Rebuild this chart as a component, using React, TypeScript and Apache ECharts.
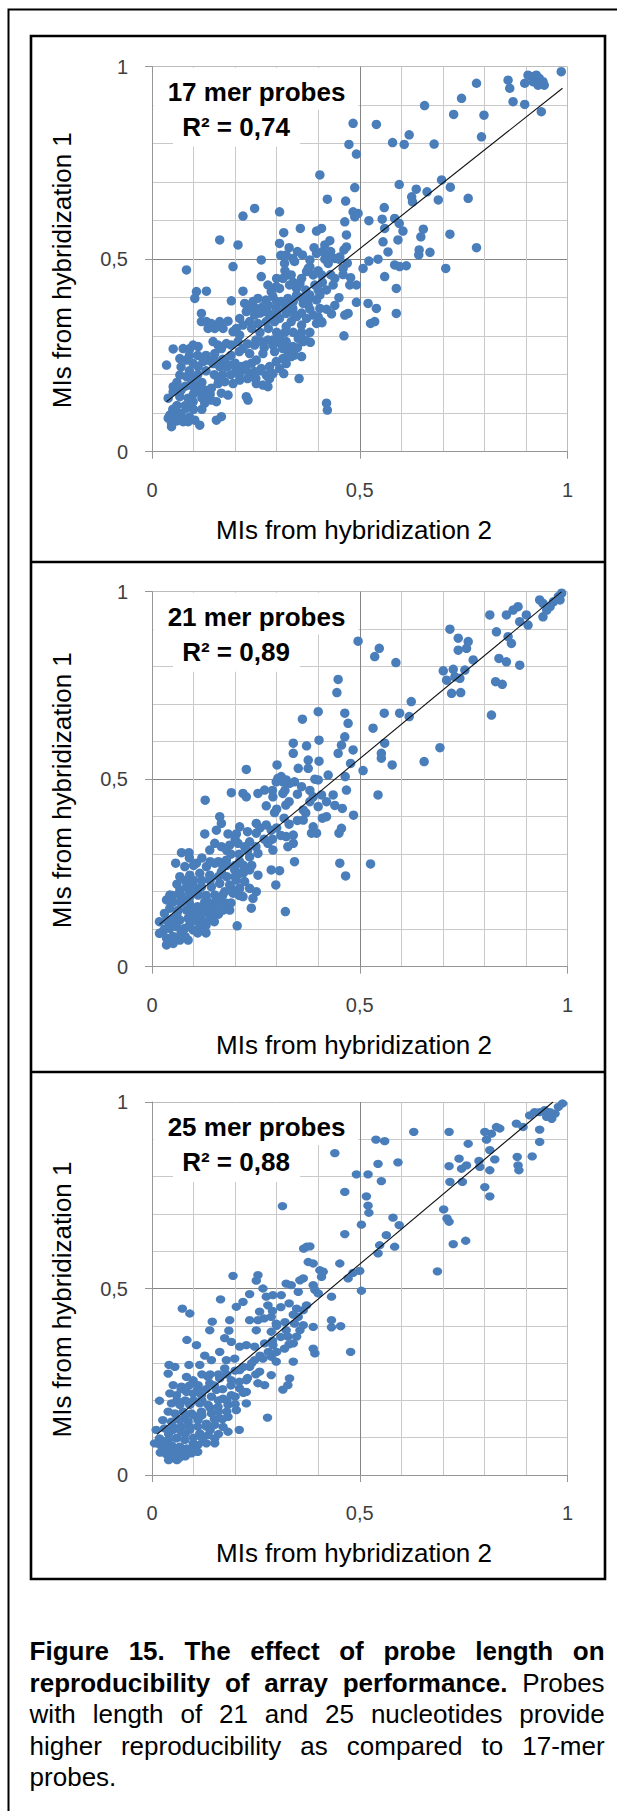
import React, { useEffect, useRef } from 'react';
import * as echarts from 'echarts';

// ---------- data ----------
const tickLabels = ['0', '0,5', '1'];
const panelTitles = ['17 mer probes', '21 mer probes', '25 mer probes'];
const r2Labels = ['R² = 0,74', 'R² = 0,89', 'R² = 0,88'];
const xAxisTitle = 'MIs from hybridization 2';
const yAxisTitle = 'MIs from hybridization 1';

const points17: number[][] = [
  [0.985,0.987],[0.944,0.952],[0.932,0.970],[0.925,0.978],[0.913,0.974],[0.905,0.978],[0.937,0.957],[0.929,0.952],[0.941,0.961],[0.921,0.965],
  [0.917,0.961],[0.897,0.957],[0.857,0.965],[0.861,0.944],[0.869,0.909],[0.897,0.902],[0.937,0.883],[0.781,0.957],[0.745,0.918],[0.799,0.874],
  [0.793,0.818],[0.656,0.899],[0.726,0.876],[0.619,0.823],[0.679,0.799],[0.579,0.803],[0.607,0.798],[0.540,0.850],[0.484,0.853],[0.474,0.798],
  [0.492,0.773],[0.404,0.719],[0.488,0.686],[0.595,0.694],[0.636,0.682],[0.662,0.675],[0.697,0.706],[0.718,0.687],[0.761,0.658],[0.689,0.654],
  [0.625,0.662],[0.627,0.649],[0.422,0.656],[0.466,0.651],[0.559,0.634],[0.484,0.623],[0.496,0.619],[0.488,0.610],[0.464,0.597],[0.522,0.600],
  [0.554,0.604],[0.584,0.606],[0.595,0.593],[0.604,0.573],[0.653,0.578],[0.647,0.558],[0.717,0.565],[0.560,0.580],[0.556,0.545],[0.592,0.550],
  [0.468,0.563],[0.468,0.532],[0.462,0.524],[0.408,0.580],[0.396,0.573],[0.357,0.580],[0.317,0.569],[0.307,0.541],[0.416,0.537],[0.428,0.548],
  [0.247,0.632],[0.219,0.612],[0.307,0.623],[0.163,0.550],[0.207,0.537],[0.781,0.530],[0.642,0.511],[0.643,0.524],[0.669,0.518],[0.707,0.476],
  [0.568,0.519],[0.544,0.500],[0.522,0.495],[0.508,0.476],[0.584,0.485],[0.596,0.481],[0.612,0.483],[0.560,0.455],[0.588,0.424],[0.588,0.359],
  [0.540,0.372],[0.520,0.385],[0.536,0.338],[0.526,0.333],[0.492,0.388],[0.492,0.433],[0.478,0.452],[0.476,0.433],[0.460,0.476],[0.472,0.359],
  [0.464,0.355],[0.462,0.301],[0.436,0.433],[0.432,0.358],[0.409,0.335],[0.404,0.372],[0.420,0.126],[0.422,0.108],[0.354,0.190],[0.381,0.284],
  [0.323,0.511],[0.339,0.502],[0.362,0.511],[0.380,0.498],[0.396,0.515],[0.428,0.511],[0.440,0.502],[0.452,0.506],[0.424,0.489],[0.416,0.500],
  [0.376,0.476],[0.343,0.494],[0.319,0.489],[0.327,0.459],
  [0.083,0.472],[0.195,0.481],[0.263,0.498],[0.263,0.455],[0.279,0.433],[0.299,0.429],[0.315,0.450],[0.335,0.459],[0.356,0.437],[0.372,0.468],
  [0.388,0.459],[0.408,0.459],[0.392,0.433],[0.348,0.424],[0.331,0.433],[0.307,0.424],[0.287,0.416],
  [0.107,0.416],[0.131,0.417],[0.103,0.398],[0.191,0.392],[0.219,0.417],[0.243,0.390],[0.255,0.398],[0.274,0.394],[0.291,0.403],[0.311,0.390],
  [0.327,0.398],[0.348,0.407],[0.364,0.385],[0.380,0.407],[0.396,0.394],[0.404,0.407],[0.376,0.381],[0.339,0.372],[0.299,0.372],[0.267,0.377],
  [0.251,0.372],[0.235,0.372],[0.223,0.385],
  [0.119,0.359],[0.119,0.338],[0.131,0.338],[0.143,0.333],[0.163,0.338],[0.183,0.339],[0.171,0.320],[0.151,0.320],[0.135,0.320],[0.211,0.346],
  [0.227,0.364],[0.247,0.355],[0.267,0.364],[0.287,0.355],[0.307,0.346],[0.323,0.359],[0.335,0.338],[0.348,0.351],[0.360,0.329],[0.372,0.346],
  [0.388,0.355],[0.396,0.333],[0.408,0.338],[0.323,0.325],[0.295,0.338],[0.275,0.338],[0.255,0.333],[0.235,0.338],[0.219,0.329],[0.203,0.320],
  [0.195,0.312],[0.211,0.303],
  [0.099,0.277],[0.091,0.268],[0.111,0.273],[0.051,0.267],[0.075,0.268],[0.147,0.286],[0.159,0.277],[0.167,0.268],[0.179,0.281],[0.191,0.277],
  [0.207,0.286],[0.219,0.268],[0.235,0.255],[0.247,0.277],[0.263,0.286],[0.279,0.290],[0.291,0.277],[0.307,0.294],[0.323,0.286],[0.339,0.273],
  [0.352,0.294],[0.364,0.286],[0.315,0.268],[0.295,0.260],[0.267,0.255],[0.151,0.255],
  [0.035,0.225],[0.067,0.242],[0.083,0.238],[0.099,0.229],[0.111,0.221],[0.123,0.234],[0.135,0.238],[0.147,0.229],[0.163,0.221],[0.175,0.238],
  [0.187,0.225],[0.203,0.212],[0.215,0.221],[0.227,0.225],[0.251,0.238],[0.263,0.216],[0.283,0.221],[0.299,0.234],[0.315,0.242],[0.327,0.260],
  [0.343,0.251],[0.360,0.247],[0.323,0.229],[0.335,0.247],[0.307,0.216],[0.291,0.203],[0.275,0.199],[0.247,0.208],[0.227,0.212],
  [0.067,0.199],[0.083,0.195],[0.091,0.173],[0.103,0.165],[0.127,0.160],[0.143,0.165],[0.159,0.177],[0.175,0.182],[0.195,0.177],[0.211,0.186],
  [0.239,0.195],[0.251,0.177],[0.267,0.173],[0.279,0.169],[0.283,0.190],[0.317,0.203],[0.279,0.195],[0.051,0.169],
  [0.051,0.156],[0.067,0.143],[0.087,0.139],[0.099,0.130],[0.119,0.156],[0.131,0.147],[0.143,0.134],[0.167,0.152],[0.183,0.147],[0.227,0.143],
  [0.231,0.134],[0.127,0.126],[0.155,0.130],[0.039,0.139],
  [0.043,0.095],[0.055,0.100],[0.039,0.087],[0.047,0.074],[0.047,0.065],[0.059,0.091],[0.071,0.087],[0.091,0.121],[0.087,0.078],[0.103,0.082],
  [0.115,0.069],[0.155,0.082],[0.167,0.091],[0.075,0.078],[0.083,0.113],
  [0.30,0.45],[0.32,0.47],[0.34,0.44],[0.36,0.45],[0.37,0.42],[0.38,0.48],[0.40,0.47],[0.41,0.44],[0.43,0.46],[0.42,0.42],
  [0.40,0.42],[0.38,0.40],[0.36,0.40],[0.34,0.39],[0.32,0.38],[0.30,0.39],[0.28,0.38],[0.26,0.36],[0.28,0.36],[0.30,0.36],
  [0.32,0.37],[0.34,0.36],[0.36,0.36],[0.38,0.37],[0.40,0.35],[0.42,0.37],[0.44,0.38],[0.45,0.40],[0.44,0.45],[0.46,0.46],
  [0.45,0.50],[0.47,0.49],[0.43,0.52],[0.41,0.52],[0.39,0.53],[0.35,0.52],[0.33,0.53],[0.31,0.51],
  [0.24,0.32],[0.26,0.31],[0.28,0.32],[0.30,0.31],[0.32,0.31],[0.34,0.31],[0.36,0.31],[0.38,0.31],[0.37,0.29],[0.35,0.27],
  [0.33,0.27],[0.31,0.28],[0.29,0.29],[0.27,0.27],[0.25,0.29],[0.23,0.28],[0.21,0.26],[0.19,0.25],[0.17,0.24],[0.15,0.24],
  [0.13,0.25],[0.11,0.25],[0.09,0.25],[0.07,0.22],[0.09,0.21],[0.11,0.20],[0.13,0.21],[0.15,0.20],[0.17,0.20],[0.19,0.20],
  [0.21,0.20],[0.23,0.19],[0.25,0.19],[0.26,0.21],[0.24,0.23],[0.20,0.23],[0.18,0.22],[0.16,0.19],[0.12,0.18],[0.10,0.19],
  [0.08,0.17],[0.06,0.18],[0.07,0.16],[0.11,0.17],[0.14,0.15],[0.12,0.14],[0.10,0.15],[0.08,0.12],[0.06,0.12],[0.05,0.11],
  [0.07,0.10],[0.10,0.11],[0.12,0.11],[0.09,0.09],[0.06,0.08],[0.05,0.09]
];

const points21: number[][] = [
  [0.986,0.996],[0.978,0.987],[0.982,0.978],[0.966,0.973],[0.958,0.960],[0.950,0.951],[0.933,0.978],[0.941,0.969],[0.941,0.933],[0.905,0.911],
  [0.901,0.938],[0.881,0.960],[0.869,0.951],[0.853,0.938],[0.813,0.938],[0.885,0.920],[0.829,0.893],[0.857,0.880],[0.865,0.862],[0.835,0.822],
  [0.853,0.813],[0.885,0.804],[0.827,0.760],[0.843,0.753],[0.817,0.671],[0.717,0.900],[0.737,0.876],[0.761,0.867],[0.737,0.844],[0.757,0.849],
  [0.773,0.818],[0.753,0.791],[0.725,0.793],[0.701,0.789],[0.709,0.764],[0.729,0.773],[0.741,0.769],[0.721,0.729],[0.743,0.731],[0.693,0.584],
  [0.624,0.707],[0.619,0.667],[0.596,0.676],[0.559,0.676],[0.532,0.636],[0.560,0.596],[0.552,0.569],[0.552,0.556],[0.578,0.538],[0.655,0.547],
  [0.496,0.868],[0.536,0.827],[0.547,0.849],[0.587,0.811],[0.448,0.766],[0.445,0.731],[0.400,0.680],[0.464,0.676],[0.472,0.649],[0.362,0.660],
  [0.464,0.613],[0.456,0.591],[0.448,0.569],[0.484,0.578],[0.478,0.542],[0.508,0.523],[0.402,0.604],[0.402,0.548],[0.372,0.589],[0.340,0.596],
  [0.340,0.569],[0.376,0.551],[0.376,0.529],[0.352,0.529],[0.301,0.538],[0.227,0.526],[0.424,0.511],[0.465,0.507],[0.400,0.498],[0.392,0.500],
  [0.468,0.471],[0.436,0.458],[0.408,0.458],[0.388,0.453],[0.400,0.427],[0.380,0.440],[0.544,0.458],[0.458,0.422],[0.485,0.404],[0.410,0.396],
  [0.388,0.373],[0.396,0.356],[0.384,0.356],[0.456,0.369],[0.450,0.356],[0.452,0.276],[0.466,0.242],[0.526,0.274],[0.364,0.391],[0.364,0.418],
  [0.318,0.396],[0.322,0.431],[0.295,0.411],[0.275,0.429],[0.291,0.453],[0.315,0.462],[0.331,0.489],[0.307,0.498],[0.299,0.493],[0.323,0.498],
  [0.343,0.493],[0.271,0.471],[0.255,0.462],[0.227,0.453],[0.219,0.462],[0.191,0.464],[0.128,0.444],[0.163,0.400],[0.167,0.382],[0.155,0.364],
  [0.127,0.354],[0.183,0.354],[0.203,0.354],[0.211,0.373],[0.251,0.382],[0.275,0.378],[0.287,0.364],[0.251,0.356],[0.235,0.333],[0.223,0.320],
  [0.207,0.329],[0.187,0.324],[0.167,0.320],[0.151,0.329],[0.139,0.311],[0.323,0.347],[0.340,0.351],[0.327,0.320],[0.343,0.280],[0.340,0.329],
  [0.291,0.311],[0.279,0.329],[0.255,0.302],[0.235,0.293],[0.211,0.280],[0.179,0.284],[0.171,0.267],[0.151,0.276],[0.131,0.267],[0.107,0.276],
  [0.089,0.304],[0.071,0.304],[0.057,0.276],[0.079,0.267],[0.067,0.240],[0.091,0.244],[0.115,0.249],[0.139,0.244],[0.167,0.253],[0.199,0.258],
  [0.211,0.249],[0.235,0.258],[0.255,0.244],[0.287,0.258],[0.307,0.256],[0.298,0.218],[0.223,0.227],[0.203,0.231],[0.187,0.218],[0.163,0.222],
  [0.143,0.213],[0.119,0.213],[0.099,0.218],[0.083,0.213],[0.067,0.204],[0.043,0.191],[0.035,0.178],[0.051,0.173],[0.071,0.182],[0.091,0.187],
  [0.111,0.191],[0.131,0.178],[0.151,0.191],[0.175,0.200],[0.195,0.196],[0.211,0.209],[0.235,0.209],[0.251,0.200],[0.243,0.182],[0.219,0.187],
  [0.239,0.156],[0.321,0.147],[0.205,0.109],[0.127,0.173],[0.143,0.164],[0.163,0.173],[0.179,0.169],[0.187,0.151],[0.171,0.151],[0.155,0.142],
  [0.135,0.147],[0.115,0.151],[0.099,0.156],[0.083,0.151],[0.063,0.151],[0.043,0.156],[0.030,0.142],[0.018,0.120],[0.035,0.124],[0.051,0.129],
  [0.067,0.124],[0.087,0.129],[0.107,0.124],[0.123,0.120],[0.139,0.124],[0.115,0.102],[0.099,0.098],[0.079,0.102],[0.059,0.107],[0.043,0.102],
  [0.026,0.093],[0.035,0.076],[0.051,0.080],[0.067,0.071],[0.087,0.071],[0.035,0.058],[0.051,0.062],[0.018,0.089],
  [0.303,0.502],[0.311,0.507],[0.315,0.493],[0.327,0.489],
  [0.05,0.11],[0.07,0.09],[0.09,0.11],[0.11,0.12],[0.13,0.11],[0.15,0.12],[0.10,0.14],[0.12,0.14],[0.14,0.13],[0.16,0.14],
  [0.06,0.14],[0.04,0.12],[0.03,0.10],[0.05,0.08],[0.08,0.08],[0.11,0.09],[0.13,0.09],[0.07,0.17],[0.09,0.17],[0.11,0.16],
  [0.13,0.16],[0.15,0.16],[0.17,0.16],[0.19,0.17],[0.21,0.19],[0.19,0.21],[0.17,0.19],[0.15,0.17],[0.13,0.19],[0.11,0.20],
  [0.09,0.20],[0.07,0.19],[0.05,0.19],[0.06,0.22],[0.08,0.23],[0.10,0.23],[0.12,0.23],[0.14,0.23],[0.16,0.24],[0.18,0.24],
  [0.20,0.24],[0.22,0.25],[0.24,0.27],[0.22,0.27],[0.20,0.27],[0.18,0.27],[0.16,0.28],[0.14,0.28],[0.12,0.29],[0.10,0.27],
  [0.09,0.29],[0.19,0.30],[0.21,0.30],[0.23,0.31],[0.25,0.32],[0.27,0.34],[0.29,0.34],[0.26,0.37],[0.23,0.36],[0.20,0.34],
  [0.18,0.31],[0.30,0.42],[0.33,0.44],[0.35,0.46],[0.32,0.47],[0.29,0.47],[0.36,0.48],[0.38,0.47],[0.30,0.37],[0.31,0.35],
  [0.33,0.38],[0.35,0.39],[0.37,0.41],[0.42,0.44],[0.42,0.40],[0.44,0.43]
];

const points25: number[][] = [
  [0.988,0.996],[0.978,0.987],[0.970,0.969],[0.958,0.973],[0.945,0.978],[0.933,0.973],[0.921,0.973],[0.909,0.964],[0.962,0.955],[0.950,0.960],
  [0.877,0.942],[0.893,0.933],[0.933,0.926],[0.933,0.893],[0.915,0.854],[0.879,0.853],[0.881,0.830],[0.883,0.817],[0.837,0.929],[0.829,0.933],
  [0.801,0.920],[0.817,0.915],[0.805,0.899],[0.813,0.871],[0.825,0.846],[0.787,0.842],[0.789,0.826],[0.813,0.817],[0.801,0.772],[0.813,0.747],
  [0.761,0.888],[0.739,0.848],[0.715,0.828],[0.745,0.821],[0.757,0.830],[0.717,0.786],[0.747,0.786],[0.715,0.920],[0.630,0.920],[0.539,0.899],
  [0.560,0.895],[0.440,0.863],[0.544,0.834],[0.592,0.838],[0.492,0.806],[0.520,0.806],[0.552,0.788],[0.464,0.759],[0.516,0.747],[0.520,0.722],
  [0.522,0.703],[0.314,0.721],[0.702,0.712],[0.710,0.688],[0.715,0.679],[0.725,0.619],[0.755,0.628],[0.687,0.546],[0.580,0.690],[0.595,0.670],
  [0.504,0.671],[0.464,0.646],[0.564,0.643],[0.548,0.616],[0.584,0.612],[0.544,0.594],[0.452,0.567],[0.500,0.547],[0.484,0.542],[0.472,0.527],
  [0.504,0.494],[0.372,0.612],[0.380,0.613],[0.365,0.607],[0.376,0.571],[0.388,0.567],[0.404,0.549],[0.412,0.545],[0.408,0.531],[0.388,0.509],
  [0.392,0.496],[0.432,0.478],[0.400,0.487],[0.364,0.527],[0.356,0.522],[0.335,0.509],[0.323,0.513],[0.352,0.491],[0.255,0.536],[0.251,0.521],
  [0.267,0.500],[0.195,0.534],[0.235,0.485],[0.219,0.464],[0.203,0.451],[0.165,0.471],[0.275,0.478],[0.291,0.482],[0.311,0.482],[0.279,0.455],
  [0.348,0.446],[0.364,0.442],[0.372,0.455],[0.352,0.424],[0.343,0.406],[0.364,0.402],[0.388,0.397],[0.432,0.415],[0.432,0.396],[0.454,0.399],
  [0.073,0.446],[0.091,0.433],[0.145,0.411],[0.139,0.388],[0.187,0.415],[0.185,0.387],[0.235,0.415],[0.259,0.438],[0.255,0.415],[0.287,0.424],
  [0.299,0.406],[0.251,0.388],[0.287,0.384],[0.323,0.388],[0.327,0.371],[0.348,0.371],[0.356,0.388],[0.084,0.362],[0.107,0.348],[0.175,0.367],
  [0.191,0.357],[0.211,0.344],[0.227,0.348],[0.247,0.344],[0.271,0.353],[0.291,0.348],[0.319,0.339],[0.340,0.353],[0.388,0.339],[0.392,0.326],
  [0.478,0.330],[0.127,0.320],[0.143,0.308],[0.163,0.330],[0.179,0.308],[0.199,0.312],[0.247,0.308],[0.267,0.312],[0.287,0.317],[0.299,0.304],
  [0.340,0.304],[0.041,0.295],[0.055,0.290],[0.089,0.295],[0.115,0.295],[0.175,0.286],[0.211,0.281],[0.235,0.290],[0.259,0.277],[0.287,0.268],
  [0.039,0.272],[0.083,0.263],[0.099,0.254],[0.135,0.263],[0.163,0.259],[0.191,0.254],[0.227,0.254],[0.255,0.246],[0.271,0.241],[0.331,0.259],
  [0.327,0.241],[0.315,0.229],[0.051,0.241],[0.071,0.237],[0.111,0.241],[0.139,0.246],[0.155,0.228],[0.211,0.232],[0.227,0.223],[0.043,0.219],
  [0.059,0.214],[0.083,0.223],[0.099,0.219],[0.119,0.214],[0.143,0.210],[0.171,0.205],[0.191,0.214],[0.227,0.192],[0.018,0.199],[0.047,0.192],
  [0.067,0.188],[0.091,0.188],[0.115,0.192],[0.135,0.188],[0.159,0.183],[0.183,0.188],[0.203,0.174],[0.039,0.170],[0.055,0.165],[0.075,0.170],
  [0.095,0.165],[0.119,0.170],[0.143,0.165],[0.163,0.152],[0.183,0.156],[0.278,0.154],[0.210,0.121],[0.026,0.147],[0.047,0.143],[0.067,0.147],
  [0.087,0.143],[0.111,0.147],[0.131,0.138],[0.151,0.134],[0.171,0.129],[0.183,0.116],[0.010,0.121],[0.030,0.125],[0.051,0.121],[0.071,0.116],
  [0.091,0.121],[0.115,0.112],[0.135,0.107],[0.151,0.098],[0.018,0.098],[0.039,0.094],[0.059,0.098],[0.079,0.094],[0.099,0.085],[0.123,0.089],
  [0.006,0.085],[0.026,0.076],[0.047,0.080],[0.067,0.076],[0.083,0.071],[0.103,0.071],[0.131,0.085],[0.151,0.085],
  [0.020,0.060],[0.035,0.055],[0.050,0.050],[0.065,0.045],[0.080,0.050],[0.045,0.062],[0.095,0.058],[0.110,0.062],[0.060,0.040],[0.030,0.068],
  [0.075,0.062],
  [0.04,0.11],[0.06,0.10],[0.08,0.11],[0.10,0.10],[0.12,0.10],[0.14,0.12],[0.16,0.11],[0.05,0.13],[0.07,0.13],[0.09,0.13],
  [0.11,0.13],[0.13,0.13],[0.15,0.15],[0.17,0.15],[0.06,0.15],[0.08,0.16],[0.10,0.16],[0.12,0.16],[0.14,0.18],[0.16,0.17],
  [0.18,0.17],[0.20,0.19],[0.06,0.20],[0.08,0.20],[0.10,0.20],[0.12,0.20],[0.16,0.20],[0.18,0.20],[0.20,0.21],[0.22,0.22],
  [0.07,0.23],[0.09,0.24],[0.11,0.23],[0.13,0.23],[0.15,0.24],[0.17,0.23],[0.19,0.24],[0.21,0.25],[0.23,0.26],[0.25,0.27],
  [0.12,0.27],[0.14,0.27],[0.16,0.27],[0.18,0.27],[0.20,0.28],[0.22,0.29],[0.24,0.30],[0.26,0.32],[0.28,0.33],[0.30,0.33],
  [0.29,0.36],[0.31,0.37],[0.33,0.35],[0.30,0.40],[0.32,0.41],[0.34,0.43],[0.33,0.46],[0.31,0.45],[0.29,0.44],[0.27,0.42],
  [0.03,0.09],[0.05,0.07],[0.09,0.07],[0.11,0.08],[0.04,0.04],[0.07,0.05],[0.02,0.08],[0.06,0.06]
];

const trend17: number[][] = [[0.035, 0.130], [0.988, 0.944]];
const trend21: number[][] = [[0.018, 0.113], [0.986, 1.0]];
const trend25: number[][] = [[0.012, 0.109], [0.965, 1.0]];

// ---------- layout / style ----------
const FONT = '"Liberation Sans", Arial, Helvetica, sans-serif';
const PLOT_LEFT = 152;
const PLOT_W = 415.5;
const panels = [
  { top: 66.7, h: 385, pts: points17, trend: trend17, sym: 9.5 as number | number[] },
  { top: 591.7, h: 375, pts: points21, trend: trend21, sym: 9.5 as number | number[] },
  { top: 1102, h: 373, pts: points25, trend: trend25, sym: [9.5, 8.3] as number | number[] },
];
const panelFrames = [36, 562, 1072, 1579];

function axisBase(i: number, isX: boolean) {
  return {
    gridIndex: i,
    type: 'value',
    min: 0,
    max: 1,
    interval: 0.5,
    axisLine: { show: true, onZero: false, lineStyle: { color: '#969696', width: 1 } },
    axisTick: { show: true, length: 7, lineStyle: { color: '#969696' } },
    axisLabel: {
      color: '#3f3f3f',
      fontSize: 20,
      fontFamily: FONT,
      margin: isX ? 28 : 24,
      formatter: (v: number) => tickLabels[Math.round(v * 2)],
    },
    splitLine: { show: true, lineStyle: { color: ['#b5b5b5', '#858585', '#bcbcbc'], width: 1 } },
    minorTick: { show: false, splitNumber: 5 },
    minorSplitLine: { show: true, lineStyle: { color: '#c9c9c9', width: 1 } },
  };
}

function buildOption() {
  const grid = panels.map((p) => ({ left: PLOT_LEFT, top: p.top, width: PLOT_W, height: p.h, containLabel: false }));
  const xAxis = panels.map((_, i) => axisBase(i, true));
  const yAxis = panels.map((_, i) => axisBase(i, false));
  const series: any[] = [];
  panels.forEach((p, i) => {
    series.push({
      type: 'scatter',
      xAxisIndex: i,
      yAxisIndex: i,
      data: p.pts,
      symbol: 'circle',
      symbolSize: p.sym,
      itemStyle: { color: '#4a7ebb', opacity: 1 },
      z: 3,
    });
    series.push({
      type: 'line',
      xAxisIndex: i,
      yAxisIndex: i,
      data: p.trend,
      symbol: 'none',
      clip: true,
      lineStyle: { color: '#111111', width: 1.1 },
      z: 4,
    });
  });

  const elements: any[] = [];
  elements.push({
    type: 'rect',
    shape: { x: 8.5, y: 9.5, width: 700, height: 1900 },
    style: { fill: 'none', stroke: '#000', lineWidth: 2 },
    z: 10,
  });
  elements.push({
    type: 'rect',
    shape: { x: 31, y: panelFrames[0], width: 574, height: panelFrames[3] - panelFrames[0] },
    style: { fill: 'none', stroke: '#000', lineWidth: 2.6 },
    z: 10,
  });
  [panelFrames[1], panelFrames[2]].forEach((y) => {
    elements.push({
      type: 'line',
      shape: { x1: 31, y1: y, x2: 605, y2: y },
      style: { stroke: '#000', lineWidth: 2.6 },
      z: 10,
    });
  });

  panels.forEach((p, i) => {
    const T = p.top;
    const axisY = T + p.h;
    elements.push({
      type: 'rect',
      shape: { x: 153.5, y: T + 1, width: 205, height: 42 },
      style: { fill: '#ffffff' },
      z: 5,
    });
    elements.push({
      type: 'rect',
      shape: { x: 173, y: T + 42, width: 127, height: 38 },
      style: { fill: '#ffffff' },
      z: 5,
    });
    elements.push({
      type: 'text',
      x: 256.5,
      y: T + 25,
      style: { text: panelTitles[i], fontSize: 26, fontWeight: 'bold', fontFamily: FONT, fill: '#000', align: 'center', verticalAlign: 'middle' },
      z: 6,
    });
    elements.push({
      type: 'text',
      x: 236,
      y: T + 60,
      style: { text: r2Labels[i], fontSize: 26, fontWeight: 'bold', fontFamily: FONT, fill: '#000', align: 'center', verticalAlign: 'middle' },
      z: 6,
    });
    elements.push({
      type: 'text',
      x: 354,
      y: axisY + 78,
      style: { text: xAxisTitle, fontSize: 26, fontFamily: FONT, fill: '#000', align: 'center', verticalAlign: 'middle' },
      z: 6,
    });
    elements.push({
      type: 'text',
      x: 62,
      y: T + p.h / 2 + 11,
      rotation: Math.PI / 2,
      style: { text: yAxisTitle, fontSize: 26, fontFamily: FONT, fill: '#000', align: 'center', verticalAlign: 'middle' },
      z: 6,
    });
  });

  return {
    animation: false,
    backgroundColor: '#ffffff',
    grid,
    xAxis,
    yAxis,
    series,
    graphic: { elements },
  };
}

const captionLines: { bold: string; normal: string; last?: boolean }[] = [
  { bold: 'Figure 15. The effect of probe length on', normal: '' },
  { bold: 'reproducibility of array performance.', normal: ' Probes' },
  { bold: '', normal: 'with length of 21 and 25 nucleotides provide' },
  { bold: '', normal: 'higher reproducibility as compared to 17-mer' },
  { bold: '', normal: 'probes.', last: true },
];

export default function App() {
  const ref = useRef<HTMLDivElement>(null);
  useEffect(() => {
    if (!ref.current) return;
    const chart = echarts.init(ref.current, undefined, { renderer: 'svg' });
    chart.setOption(buildOption() as any);
    return () => chart.dispose();
  }, []);

  return (
    <div style={{ position: 'absolute', left: 0, top: 0, width: 617, height: 1811, background: '#fff', overflow: 'hidden' }}>
      <div ref={ref} style={{ position: 'absolute', left: 0, top: 0, width: 617, height: 1811 }} />
      <div
        style={{
          position: 'absolute',
          left: 29.6,
          top: 1636,
          width: 575,
          fontFamily: FONT,
          fontSize: 26,
          lineHeight: '31.6px',
          color: '#000',
        }}
      >
        {captionLines.map((l, i) => (
          <div
            key={i}
            style={{
              textAlign: l.last ? 'left' : 'justify',
              textAlignLast: l.last ? 'left' : 'justify',
              whiteSpace: 'normal',
            } as any}
          >
            {l.bold ? <b>{l.bold}</b> : null}
            {l.normal}
          </div>
        ))}
      </div>
    </div>
  );
}
